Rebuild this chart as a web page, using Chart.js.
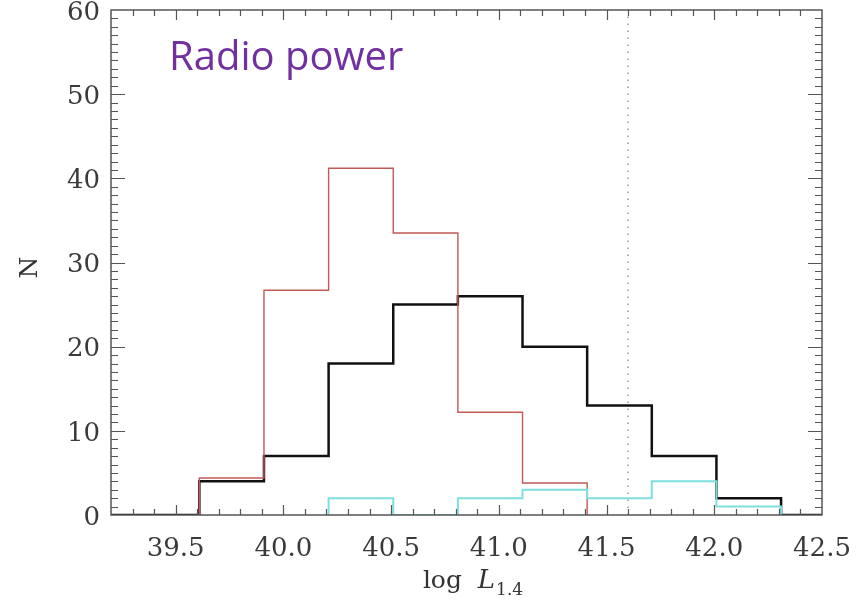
<!DOCTYPE html>
<html>
<head>
<meta charset="utf-8">
<script src="https://cdn.jsdelivr.net/npm/chart.js@4.4.1/dist/chart.umd.min.js"></script>
<style>
  html, body { margin: 0; padding: 0; background: #fff; }
</style>
</head>
<body>
<canvas id="histo" width="857" height="604"></canvas>
<script>
// bin edges of log L1.4 (width 0.3)
const binEdges = [39.61, 39.91, 40.21, 40.51, 40.81, 41.11, 41.41, 41.71, 42.01, 42.31];
// counts per bin
const blackCounts = [4, 7, 18, 25, 26, 20, 13, 7, 2];
const redCounts = [4.4, 26.7, 41.2, 33.5, 12.2, 3.8];      // starts at 39.61
const cyanCounts = [2, 0, 2, 3, 2, 4, 1];                  // starts at 40.21
const cyanStart = 2;
const cutoffLine = 41.6;
const xRange = [39.2, 42.5];
const yRange = [0, 60];
const xTickValues = [39.5, 40.0, 40.5, 41.0, 41.5, 42.0, 42.5];
const yTickValues = [0, 10, 20, 30, 40, 50, 60];
const titleText = 'Radio power';

const SERIF = '"DejaVu Serif", "Liberation Serif", serif';

// build step outline: up at first edge, bars, down at last edge
function steps(edges, counts) {
    const pts = [{ x: edges[0], y: 0 }];
    counts.forEach((c, i) => pts.push({ x: edges[i], y: c }));
    pts.push({ x: edges[counts.length], y: 0 });
    return pts;
}

const blackPts = [{ x: xRange[0], y: 0 }].concat(steps(binEdges, blackCounts), [{ x: xRange[1], y: 0 }]);
const redPts = steps(binEdges, redCounts);
const cyanPts = steps(binEdges.slice(cyanStart), cyanCounts);

// inward ticks, box frame, labels
const frame = {
    id: 'frame',
    afterDatasetsDraw(chart) {
        const { ctx, chartArea: a, scales: { x, y } } = chart;
        ctx.save();
        ctx.strokeStyle = '#555';
        ctx.lineWidth = 1.5;
        ctx.strokeRect(a.left, a.top, a.right - a.left, a.bottom - a.top);

        ctx.lineWidth = 1.2;
        ctx.beginPath();
        for (let k = 393; k <= 424; k++) {
            const px = Math.round(x.getPixelForValue(k / 10)) + 0.5;
            const len = k % 5 === 0 ? 10 : 6;
            ctx.moveTo(px, a.bottom); ctx.lineTo(px, a.bottom - len);
            ctx.moveTo(px, a.top); ctx.lineTo(px, a.top + len);
        }
        for (let k = 1; k < 60; k++) {
            const py = Math.round(y.getPixelForValue(k)) + 0.5;
            const len = k % 10 === 0 ? 14 : 7;
            ctx.moveTo(a.left, py); ctx.lineTo(a.left + len, py);
            ctx.moveTo(a.right, py); ctx.lineTo(a.right - len, py);
        }
        ctx.stroke();

        // title inside plot
        ctx.fillStyle = '#7030A0';
        ctx.font = '40px "Open Sans", "Noto Sans", sans-serif';
        ctx.textBaseline = 'alphabetic';
        ctx.textAlign = 'left';
        ctx.fillText(titleText, a.left + 58, a.top + 60);

        // x axis title: log L_1.4
        ctx.fillStyle = '#333';
        const f1 = '25px ' + SERIF, f2 = 'italic 26px ' + SERIF, f3 = '17px ' + SERIF;
        ctx.font = f1; const w1 = ctx.measureText('log  ').width;
        ctx.font = f2; const w2 = ctx.measureText('L').width;
        ctx.font = f3; const w3 = ctx.measureText('1.4').width;
        let cx = (a.left + a.right) / 2 + 6 - (w1 + w2 + w3) / 2;
        const base = a.bottom + 73;
        ctx.font = f1; ctx.fillText('log  ', cx, base); cx += w1;
        ctx.font = f2; ctx.fillText('L', cx, base); cx += w2 + 1;
        ctx.font = f3; ctx.fillText('1.4', cx, base + 7);

        // y axis title, rotated
        ctx.save();
        ctx.translate(37, (a.top + a.bottom) / 2 + 5);
        ctx.rotate(-Math.PI / 2);
        ctx.font = '25px ' + SERIF;
        ctx.textAlign = 'center';
        ctx.fillText('N', 0, 0);
        ctx.restore();

        ctx.restore();
    }
};

new Chart(document.getElementById('histo'), {
    type: 'line',
    data: {
        datasets: [
            { data: cyanPts, borderColor: '#7fdede', borderWidth: 2, stepped: true, order: 0, clip: 0 },
            { data: redPts, borderColor: '#c05a55', borderWidth: 1.4, stepped: true, order: 1 },
            { data: blackPts, borderColor: '#111', borderWidth: 2.5, stepped: true, order: 2 },
            {
                data: [{ x: cutoffLine, y: yRange[0] }, { x: cutoffLine, y: yRange[1] }],
                borderColor: '#999', borderWidth: 1.5, borderDash: [1.5, 5.5], order: 3
            }
        ]
    },
    options: {
        responsive: false,
        animation: false,
        devicePixelRatio: 1,
        layout: { padding: { top: 10, right: 35, left: 0, bottom: 0 } },
        elements: { point: { radius: 0 }, line: { tension: 0 } },
        plugins: { legend: { display: false }, tooltip: { enabled: false } },
        scales: {
            x: {
                type: 'linear',
                min: xRange[0],
                max: xRange[1],
                grid: { display: false, drawTicks: false },
                border: { display: false },
                afterBuildTicks: s => { s.ticks = xTickValues.map(v => ({ value: v })); },
                afterFit: s => { s.height = 89; s.paddingLeft = 0; s.paddingRight = 0; },
                ticks: {
                    padding: 19,
                    maxRotation: 0,
                    color: '#3a3a3a',
                    font: { family: SERIF, size: 26 },
                    callback: v => Number(v).toFixed(1)
                }
            },
            y: {
                min: yRange[0],
                max: yRange[1],
                grid: { display: false, drawTicks: false },
                border: { display: false },
                afterBuildTicks: s => { s.ticks = yTickValues.map(v => ({ value: v })); },
                afterFit: s => { s.width = 111; s.paddingTop = 0; s.paddingBottom = 0; },
                ticks: {
                    padding: 11,
                    labelOffset: 3,
                    color: '#3a3a3a',
                    font: { family: SERIF, size: 26 }
                }
            }
        }
    },
    plugins: [frame]
});
</script>
</body>
</html>
